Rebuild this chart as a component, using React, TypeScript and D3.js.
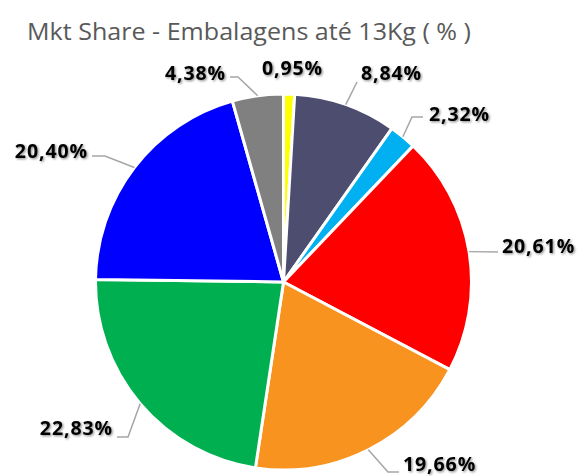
import React, { useEffect, useRef } from 'react';
import * as d3 from 'd3';

// slice order: clockwise from 12 o'clock
const labels = ['0,95%', '8,84%', '2,32%', '20,61%', '19,66%', '22,83%', '20,40%', '4,38%'];
const shares = [0.95, 8.84, 2.32, 20.61, 19.66, 22.83, 20.4, 4.38];
const colors = ['#FFFF00', '#4D4D70', '#00B0F0', '#FF0000', '#F7931E', '#00B050', '#0000FF', '#808080'];

// manual label placement (like Excel's dragged labels): text anchor + leader elbow
const labelLayout = [
  { x: 262, y: 75, anchor: 'start', elbow: null, end: null },
  { x: 361, y: 80, anchor: 'start', elbow: null, end: [357, 82] },
  { x: 429, y: 121, anchor: 'start', elbow: [412, 117], end: [423, 117] },
  { x: 502, y: 253, anchor: 'start', elbow: null, end: [498, 252] },
  { x: 403, y: 471, anchor: 'start', elbow: [388, 472], end: [399, 472] },
  { x: 113, y: 435, anchor: 'end', elbow: [128, 437], end: [117, 437] },
  { x: 88, y: 158, anchor: 'end', elbow: [105, 156], end: [92, 156] },
  { x: 226, y: 80, anchor: 'end', elbow: [238, 77], end: [230, 77] },
];

const App = () => {
  const ref = useRef<SVGSVGElement>(null);

  useEffect(() => {
    const svg = d3.select(ref.current);
    svg.selectAll('*').remove();

    const cx = 283.5;
    const cy = 282;
    const r = 188;

    const defs = svg.append('defs');
    const f = defs.append('filter').attr('id', 'shadow')
      .attr('x', '-20%').attr('y', '-30%').attr('width', '140%').attr('height', '160%');
    f.append('feDropShadow')
      .attr('dx', 1.2).attr('dy', 1.2).attr('stdDeviation', 1)
      .attr('flood-color', '#000').attr('flood-opacity', 0.45);

    svg.append('text')
      .attr('x', 27)
      .attr('y', 40)
      .attr('font-family', 'Open Sans, sans-serif')
      .attr('font-size', 23)
      .attr('fill', '#595959')
      .attr('textLength', 444)
      .attr('lengthAdjust', 'spacingAndGlyphs')
      .text('Mkt Share - Embalagens até 13Kg ( % )');

    const pie = d3.pie<number>().sort(null).value(d => d);
    const arcs = pie(shares);
    const arc = d3.arc<d3.PieArcDatum<number>>().innerRadius(0).outerRadius(r);

    const g = svg.append('g').attr('transform', `translate(${cx},${cy})`);
    g.selectAll('path')
      .data(arcs)
      .enter().append('path')
      .attr('d', arc)
      .attr('fill', (d, i) => colors[i])
      .attr('stroke', '#fff')
      .attr('stroke-width', 3)
      .attr('stroke-linejoin', 'round');

    // leader lines from the slice edge at its mid angle
    arcs.forEach((a, i) => {
      const L = labelLayout[i];
      if (!L.end) return;
      const mid = (a.startAngle + a.endAngle) / 2;
      const p0 = [cx + r * Math.sin(mid), cy - r * Math.cos(mid)];
      const pts = [p0];
      if (L.elbow) pts.push(L.elbow);
      pts.push(L.end);
      svg.append('path')
        .attr('d', d3.line()(pts as [number, number][]))
        .attr('fill', 'none')
        .attr('stroke', '#A6A6A6')
        .attr('stroke-width', 1.5);
    });

    svg.append('g')
      .selectAll('text')
      .data(labels)
      .enter().append('text')
      .attr('x', (d, i) => labelLayout[i].x)
      .attr('y', (d, i) => labelLayout[i].y)
      .attr('text-anchor', (d, i) => labelLayout[i].anchor)
      .attr('font-family', 'Open Sans, sans-serif')
      .attr('font-weight', 'bold')
      .attr('font-size', 19.5)
      .attr('letter-spacing', 0.9)
      .attr('fill', '#000')
      .attr('filter', 'url(#shadow)')
      .text(d => d);
  }, []);

  return (
    <svg ref={ref} width="584" height="476" style={{ position: 'absolute', left: 0, top: 0 }}></svg>
  );
};

export default App;
